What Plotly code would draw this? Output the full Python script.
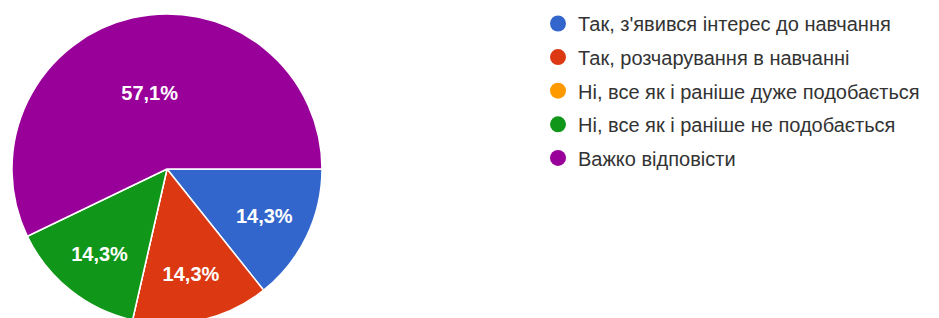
import plotly.graph_objects as go

categories = [
    "Так, з'явився інтерес до навчання",
    "Так, розчарування в навчанні",
    "Ні, все як і раніше дуже подобається",
    "Ні, все як і раніше не подобається",
    "Важко відповісти",
]
counts = [1, 1, 0, 1, 4]
colors = ["#3366cc", "#dc3912", "#ff9900", "#109618", "#990099"]

total = sum(counts)
slice_text = [
    (f"{100 * v / total:.1f}%".replace(".", ",") if v > 0 else "") for v in counts
]

W, H = 939, 324
fig = go.Figure()
fig.add_trace(go.Pie(
    labels=categories,
    values=counts,
    text=slice_text,
    textinfo="text",
    sort=False,
    direction="clockwise",
    rotation=90,
    marker=dict(colors=colors, line=dict(color="white", width=1.5)),
    insidetextfont=dict(family="Liberation Sans, Arial, sans-serif", size=20, color="white", weight="bold"),
    textposition="inside",
    insidetextorientation="horizontal",
    showlegend=False,
    domain=dict(x=[12 / W, 322 / W], y=[0, 1]),
    hoverinfo="label+percent",
))

for name, col in zip(categories, colors):
    fig.add_trace(go.Scatter(
        x=[None], y=[None], mode="markers", name=name, legendgroup=name,
        marker=dict(symbol="circle", size=16, color=col),
        showlegend=True,
    ))

fig.update_layout(
    width=W, height=H,
    margin=dict(l=0, r=0, t=14, b=0),
    paper_bgcolor="white", plot_bgcolor="white",
    xaxis=dict(visible=False), yaxis=dict(visible=False),
    legend=dict(
        x=538 / W, xanchor="left", y=1 + 10 / 310, yanchor="top",
        font=dict(family="Liberation Sans, Arial, sans-serif", size=20, color="#333333"),
        traceorder="grouped", tracegroupgap=4.6,
        itemsizing="trace", bgcolor="rgba(0,0,0,0)",
        maxheight=1,
    ),
)

fig.write_html(
    "out.html",
    config={"displayModeBar": False},
    post_script="document.body.style.margin='0';document.body.style.overflow='hidden';",
)
